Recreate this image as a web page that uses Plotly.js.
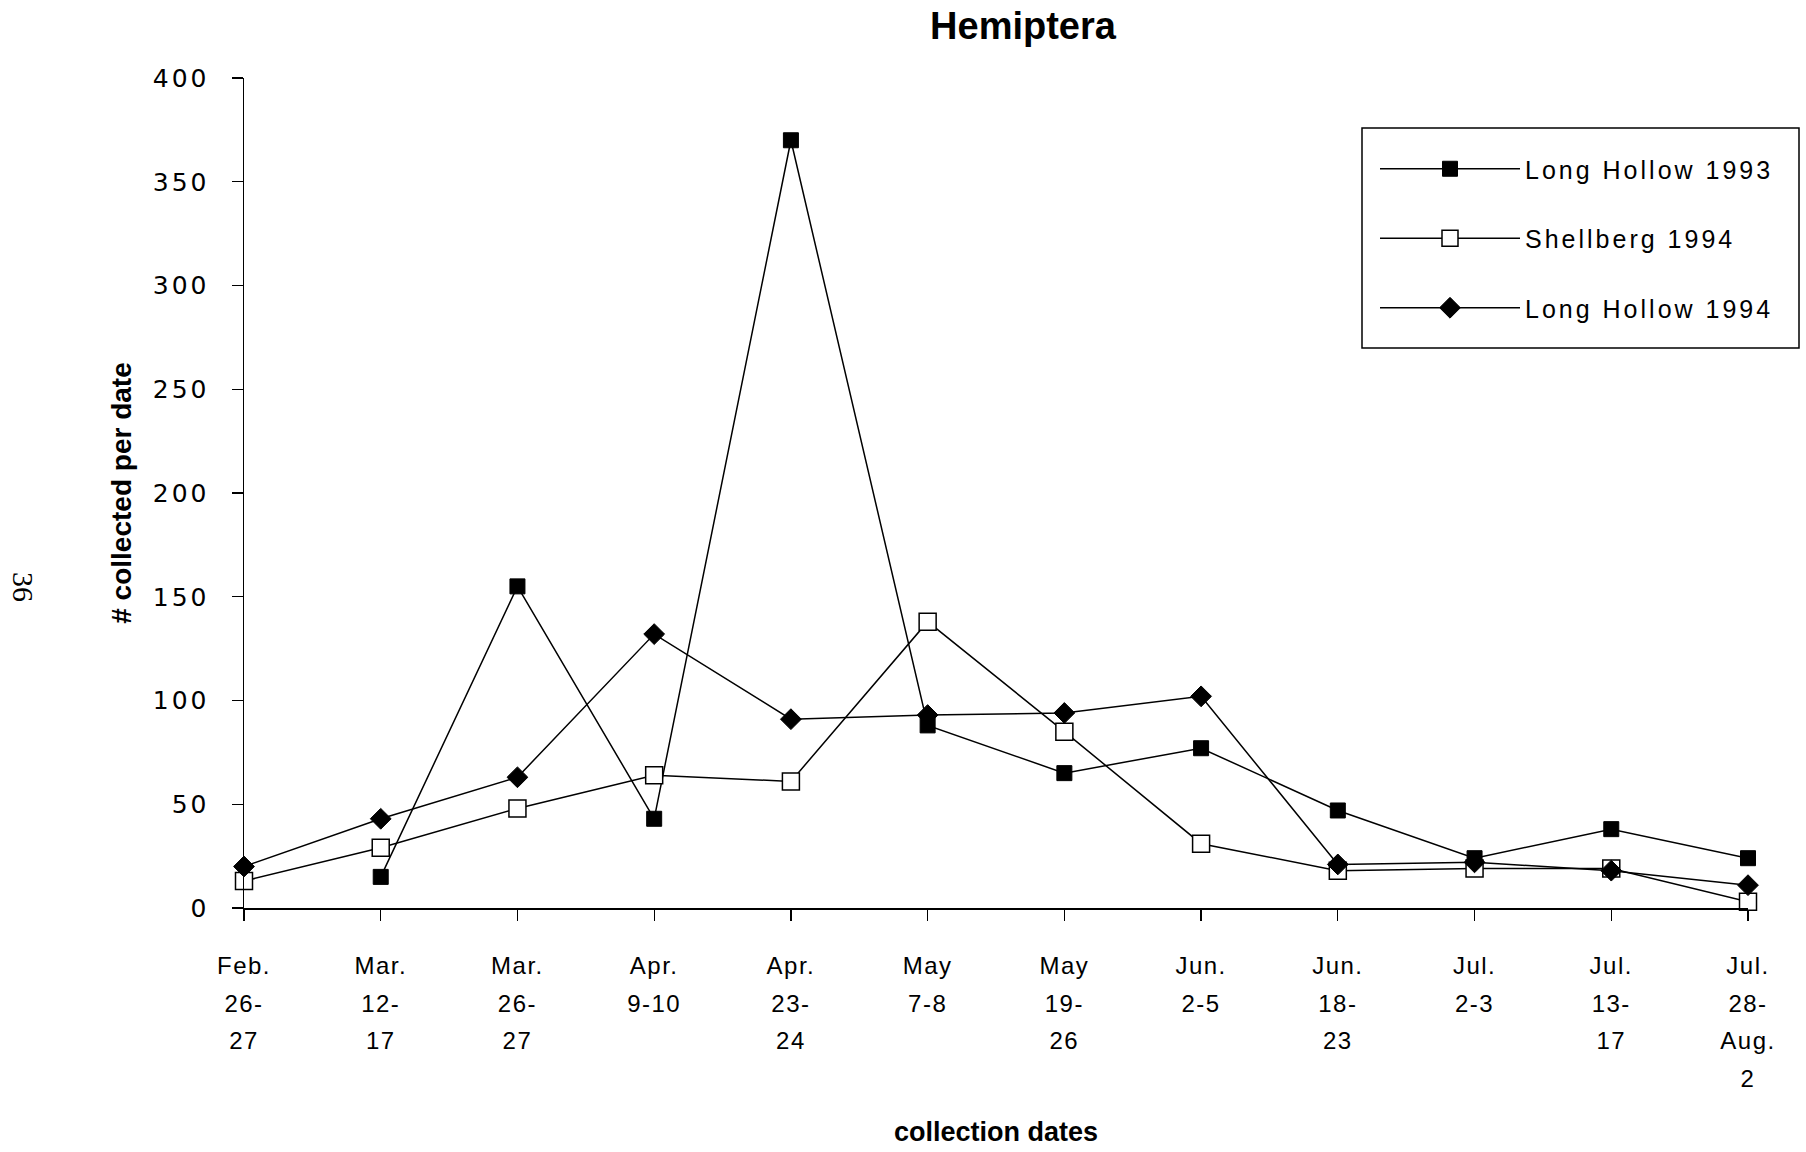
<!DOCTYPE html>
<html>
<head>
<meta charset="utf-8">
<script src="https://cdn.plot.ly/plotly-3.0.1.min.js"></script>
<style>
  html, body { margin: 0; padding: 0; background: #fff; }
  #chart { width: 1806px; height: 1152px; }
  .ytick text { letter-spacing: 3px; }
  .xtick text { letter-spacing: 1.5px; }
  .legendtext { letter-spacing: 3px; }
</style>
</head>
<body>
<div id="chart"></div>
<script>
// ---- data ----
const categories = [
  'Feb.<br>26-<br>27', 'Mar.<br>12-<br>17', 'Mar.<br>26-<br>27', 'Apr.<br>9-10',
  'Apr.<br>23-<br>24', 'May<br>7-8', 'May<br>19-<br>26', 'Jun.<br>2-5',
  'Jun.<br>18-<br>23', 'Jul.<br>2-3', 'Jul.<br>13-<br>17', 'Jul.<br>28-<br>Aug.<br>2'
];
const seriesNames = ['Long Hollow 1993', 'Shellberg 1994', 'Long Hollow 1994'];
const longHollow1993 = [null, 15, 155, 43, 370, 88, 65, 77, 47, 24, 38, 24];
const shellberg1994  = [13, 29, 48, 64, 61, 138, 85, 31, 18, 19, 19, 3];
const longHollow1994 = [20, 43, 63, 132, 91, 93, 94, 102, 21, 22, 18, 11];
const yTickVals = [0, 50, 100, 150, 200, 250, 300, 350, 400];

const W = 1806, H = 1152;
const L = 244, R = 58, T = 78, B = 244;
const pw = W - L - R, ph = H - T - B;
const px = x => (x - L) / pw;
const py = y => (H - B - y) / ph;

const FONT = 'Liberation Sans, Arial, Helvetica, sans-serif';
const lineStyle = { color: '#000', width: 1.5 };
const traces = [
  {
    x: categories, y: longHollow1993, name: seriesNames[0], legendgroup: 'a',
    type: 'scatter', mode: 'lines+markers', cliponaxis: false,
    line: lineStyle,
    marker: { symbol: 'square', size: 15, color: '#000', line: { color: '#000', width: 1 } }
  },
  {
    x: categories, y: shellberg1994, name: seriesNames[1], legendgroup: 'b',
    type: 'scatter', mode: 'lines+markers', cliponaxis: false,
    line: lineStyle,
    marker: { symbol: 'square', size: 17, color: '#fff', line: { color: '#000', width: 1.5 } }
  },
  {
    x: categories, y: longHollow1994, name: seriesNames[2], legendgroup: 'c',
    type: 'scatter', mode: 'lines+markers', cliponaxis: false,
    line: lineStyle,
    marker: { symbol: 'diamond', size: 16, color: '#000', line: { color: '#000', width: 1 } }
  }
];

const layout = {
  width: W, height: H,
  margin: { l: L, r: R, t: T, b: B, autoexpand: false },
  paper_bgcolor: '#fff', plot_bgcolor: '#fff',
  font: { family: FONT, color: '#000' },
  title: {
    text: '<b>Hemiptera</b>', xref: 'container', yref: 'container',
    x: 1023 / W, xanchor: 'center', y: 1 - 26 / H, yanchor: 'middle',
    font: { size: 38, family: FONT, color: '#000' }
  },
  xaxis: {
    type: 'category', range: [0, 11], fixedrange: true,
    showline: true, linecolor: '#000', linewidth: 1.5,
    showgrid: false, zeroline: false,
    ticks: 'outside', ticklen: 11, tickwidth: 1.2, tickcolor: '#000',
    ticklabelstandoff: 25,
    tickfont: { size: 24, family: FONT, color: '#000' },
    title: { text: '<b>collection dates</b>', standoff: 50,
             font: { size: 27, family: FONT, color: '#000' } },
    automargin: false
  },
  yaxis: {
    range: [0, 400], tickvals: yTickVals, fixedrange: true,
    showline: true, linecolor: '#000', linewidth: 1.5,
    showgrid: false, zeroline: false,
    ticks: 'outside', ticklen: 11, tickwidth: 1.2, tickcolor: '#000',
    ticklabelstandoff: 17,
    tickfont: { size: 25, family: 'DejaVu Sans, sans-serif', color: '#000' },
    title: { text: '<b># collected per date</b>', standoff: 13,
             font: { size: 28, family: FONT, color: '#000' } },
    automargin: false
  },
  xaxis2: {
    overlaying: 'x', anchor: 'y', range: [0, 11], tickvals: [0,1,2,3,4,5,6,7,8,9,10,11],
    ticks: 'inside', ticklen: 9, tickwidth: 1.2, tickcolor: '#000',
    showticklabels: false, showline: false, showgrid: false, zeroline: false, fixedrange: true
  },
  yaxis2: {
    overlaying: 'y', anchor: 'x', range: [0, 400], tickvals: yTickVals,
    ticks: 'inside', ticklen: 8, tickwidth: 1.2, tickcolor: '#000',
    showticklabels: false, showline: false, showgrid: false, zeroline: false, fixedrange: true
  },
  showlegend: true,
  legend: {
    x: px(1375), xanchor: 'left', y: py(146), yanchor: 'top',
    bgcolor: 'rgba(0,0,0,0)', borderwidth: 0,
    itemwidth: 140, tracegroupgap: 34, traceorder: 'grouped',
    font: { size: 25, family: FONT, color: '#000' }
  },
  shapes: [{
    type: 'rect', xref: 'paper', yref: 'paper',
    x0: px(1362), x1: px(1799), y0: py(348), y1: py(128),
    line: { color: '#000', width: 1.5 }, fillcolor: 'rgba(0,0,0,0)', layer: 'below'
  }],
  annotations: [{
    text: '36', xref: 'paper', yref: 'paper', x: px(24), y: py(587),
    xanchor: 'center', yanchor: 'middle',
    showarrow: false, textangle: 90,
    font: { size: 30, family: 'Liberation Serif, Times New Roman, serif', color: '#000' }
  }]
};

Plotly.newPlot('chart', traces, layout, { staticPlot: true, displayModeBar: false }).then(() => {
  // widen multi-line tick label line spacing (1.3em -> 1.56em) to match the reference
  document.querySelectorAll('.xtick text tspan.line').forEach(t => {
    const dy = parseFloat(t.getAttribute('dy'));
    if (!isNaN(dy) && dy !== 0) t.setAttribute('dy', (dy / 1.3 * 1.56) + 'em');
  });
});
</script>
</body>
</html>
